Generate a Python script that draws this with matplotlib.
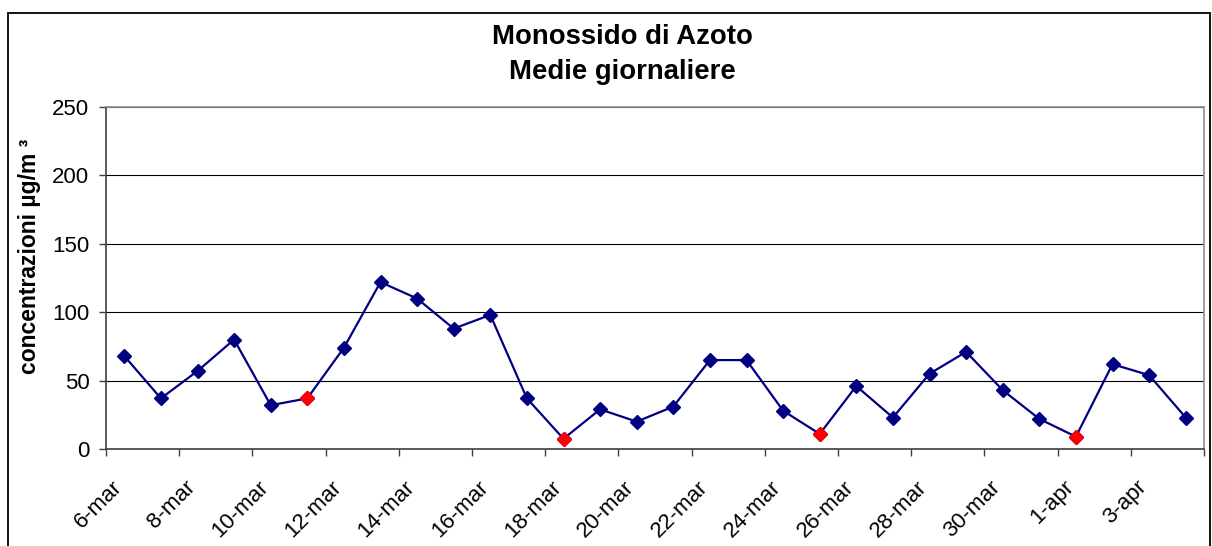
import matplotlib
matplotlib.use('Agg')
import matplotlib.pyplot as plt
from matplotlib.patches import Rectangle

plt.rcParams['font.family'] = ['Liberation Sans', 'DejaVu Sans']

# daily means of NO (µg/m3), 6-mar .. 4-apr
days = ['6-mar', '7-mar', '8-mar', '9-mar', '10-mar', '11-mar', '12-mar', '13-mar',
        '14-mar', '15-mar', '16-mar', '17-mar', '18-mar', '19-mar', '20-mar', '21-mar',
        '22-mar', '23-mar', '24-mar', '25-mar', '26-mar', '27-mar', '28-mar', '29-mar',
        '30-mar', '31-mar', '1-apr', '2-apr', '3-apr', '4-apr']
values = [68, 37, 57, 80, 32, 37, 74, 122, 110, 88, 98, 37, 7.5, 29, 20, 31,
          65, 65, 28, 11, 46, 23, 55, 71, 43, 22, 9, 62, 54, 23]
# days drawn in red
red_days = ['11-mar', '18-mar', '25-mar', '1-apr']
yticks = [0, 50, 100, 150, 200, 250]

navy = '#000080'

fig = plt.figure(figsize=(12.12, 5.46), dpi=100)
ax = fig.add_axes([106 / 1212, 1 - 449 / 546, (1204 - 106) / 1212, (449 - 107) / 546])

x = list(range(len(days)))
ax.plot(x, values, color=navy, lw=1.6, marker='D', ms=7.5, mfc=navy, mec=navy, zorder=3)
rx = [days.index(d) for d in red_days]
ry = [values[i] for i in rx]
ax.plot(rx, ry, ls='none', marker='D', ms=7.5, mfc='red', mec='red', zorder=4)

ax.set_xlim(-0.5, len(days) - 0.5)
ax.set_ylim(0, 250)
ax.set_yticks(yticks)
ax.yaxis.grid(True, color='black', lw=0.8)
ax.set_axisbelow(True)

# tick marks on category boundaries, labels every two days
ax.set_xticks([i - 0.5 for i in range(0, len(days) + 1, 2)])
ax.set_xticklabels([])
ax.set_xticks([i - 0.35 for i in range(0, len(days), 2)], minor=True)
ax.set_xticklabels(days[::2], minor=True, rotation=45, ha='right', va='top',
                   rotation_mode='anchor', fontsize=16)
ax.tick_params(axis='x', which='major', length=5, width=1, color='#404040')
ax.tick_params(axis='x', which='minor', length=0, pad=20)
ax.tick_params(axis='y', length=5, width=1, color='#404040', labelsize=16, pad=7)

for s in ['top', 'right']:
    ax.spines[s].set_color('#909090')
    ax.spines[s].set_linewidth(1.2)
for s in ['left', 'bottom']:
    ax.spines[s].set_color('#404040')
    ax.spines[s].set_linewidth(1.2)

fig.text(30 / 1212, 1 - 256 / 546, 'concentrazioni µg/m ³', rotation=90,
         ha='center', va='center', fontsize=16.5, fontweight='bold')
fig.text(622 / 1212, 1 - 37 / 546, 'Monossido di Azoto', ha='center', va='center',
         fontsize=19.8, fontweight='bold')
fig.text(622 / 1212, 1 - 72 / 546, 'Medie giornaliere', ha='center', va='center',
         fontsize=19.8, fontweight='bold')

# outer chart frame
fig.patches.append(Rectangle((8 / 1212, -0.1), 1202 / 1212, 1.1 - 13 / 546,
                             transform=fig.transFigure, fill=False, ec='black', lw=1.3))

fig.savefig('out.png', dpi=100)
